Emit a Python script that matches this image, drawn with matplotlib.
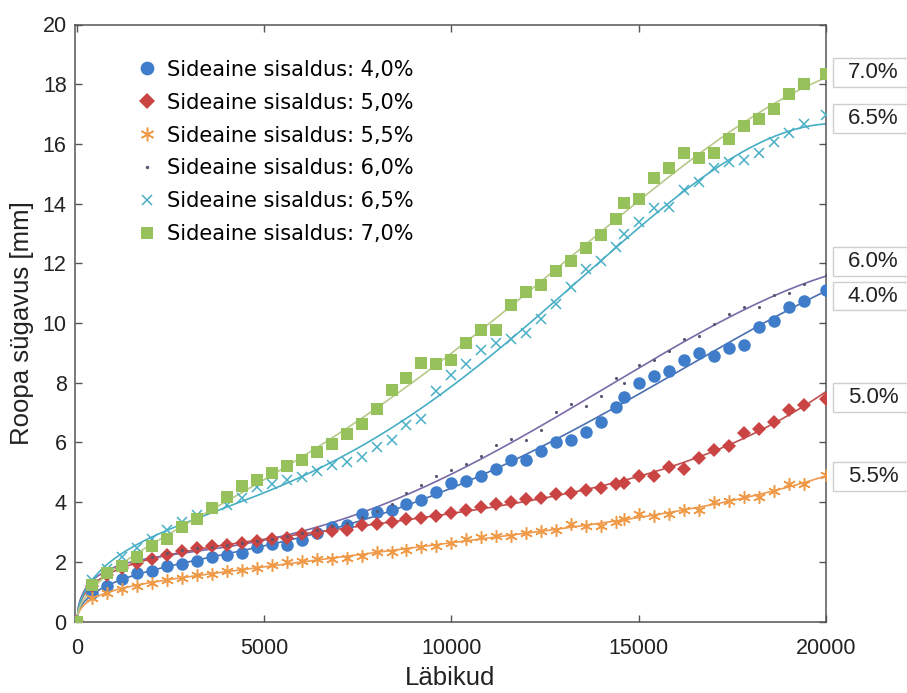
import numpy as np
import matplotlib
matplotlib.use("Agg")
import matplotlib.pyplot as plt
from matplotlib.patches import Rectangle
from matplotlib.transforms import blended_transform_factory

# ---------------- data ----------------
passes = ([i * 400 for i in range(37)] + [14600] +
          [15000 + i * 400 for i in range(12)] + [20000])

y_40 = [0, 0.94, 1.2, 1.41, 1.61, 1.7, 1.87, 1.92, 2.02, 2.17, 2.22, 2.31, 2.48,
        2.6, 2.57, 2.74, 2.95, 3.17, 3.23, 3.6, 3.66, 3.75, 3.92, 4.08, 4.33, 4.64,
        4.7, 4.87, 5.1, 5.4, 5.4, 5.71, 6.01, 6.07, 6.35, 6.68, 7.18, 7.52, 7.99,
        8.21, 8.38, 8.75, 8.99, 8.88, 9.16, 9.27, 9.88, 10.08, 10.53, 10.73, 11.12]
y_50 = [0, 1.2, 1.55, 1.8, 1.95, 2.11, 2.22, 2.36, 2.47, 2.52, 2.56, 2.64, 2.7,
        2.75, 2.8, 2.92, 2.98, 3.03, 3.08, 3.23, 3.28, 3.34, 3.42, 3.47, 3.54, 3.65,
        3.73, 3.82, 3.92, 3.99, 4.09, 4.15, 4.26, 4.29, 4.42, 4.47, 4.6, 4.65, 4.88,
        4.87, 5.16, 5.12, 5.49, 5.76, 5.87, 6.32, 6.46, 6.7, 7.07, 7.26, 7.46]
y_55 = [0, 0.78, 0.95, 1.1, 1.2, 1.3, 1.38, 1.47, 1.55, 1.6, 1.68, 1.72, 1.8,
        1.9, 2.0, 2.03, 2.08, 2.1, 2.12, 2.2, 2.32, 2.33, 2.41, 2.5, 2.52, 2.64,
        2.75, 2.82, 2.86, 2.86, 2.97, 3.03, 3.08, 3.26, 3.19, 3.2, 3.34, 3.45, 3.6,
        3.54, 3.6, 3.73, 3.75, 3.99, 4.04, 4.17, 4.17, 4.37, 4.59, 4.59, 4.9]
y_60 = [0, 1.35, 1.6, 1.85, 2.0, 2.15, 2.28, 2.38, 2.45, 2.5, 2.55, 2.62, 2.7,
        2.78, 2.85, 2.95, 3.08, 3.2, 3.3, 3.5, 3.7, 3.95, 4.29, 4.57, 4.87, 5.09,
        5.29, 5.55, 5.9, 6.1, 6.07, 6.4, 7.02, 7.27, 7.21, 7.57, 8.15, 7.99, 8.58,
        8.75, 9.05, 9.45, 9.58, 9.97, 10.31, 10.53, 10.55, 10.95, 11.0, 11.31, 11.62]
y_65 = [0, 1.4, 1.75, 2.17, 2.45, 2.78, 3.08, 3.34, 3.58, 3.79, 3.9, 4.15, 4.51,
        4.6, 4.73, 4.84, 5.04, 5.23, 5.34, 5.51, 5.85, 6.09, 6.57, 6.77, 7.71, 8.25,
        8.63, 9.1, 9.33, 9.47, 9.66, 10.14, 10.64, 11.2, 11.81, 12.07, 12.54, 12.98,
        13.37, 13.84, 13.87, 14.45, 14.73, 15.19, 15.4, 15.46, 15.71, 16.07, 16.38,
        16.68, 16.97]
y_70 = [0, 1.22, 1.61, 1.87, 2.17, 2.52, 2.78, 3.15, 3.43, 3.81, 4.17, 4.53, 4.73,
        4.98, 5.2, 5.4, 5.68, 5.96, 6.29, 6.6, 7.11, 7.77, 8.17, 8.67, 8.64, 8.77,
        9.33, 9.75, 9.78, 10.61, 11.03, 11.28, 11.73, 12.09, 12.51, 12.96, 13.49,
        14.02, 14.17, 14.86, 15.18, 15.68, 15.52, 15.69, 16.16, 16.61, 16.85, 17.18,
        17.66, 18.02, 18.33]

legend_labels = ["Sideaine sisaldus: 4,0%", "Sideaine sisaldus: 5,0%",
                 "Sideaine sisaldus: 5,5%", "Sideaine sisaldus: 6,0%",
                 "Sideaine sisaldus: 6,5%", "Sideaine sisaldus: 7,0%"]
end_labels = ["4.0%", "5.0%", "5.5%", "6.0%", "6.5%", "7.0%"]
end_label_y = [10.9, 7.5, 4.85, 12.05, 16.85, 18.4]

x_ticks = [0, 5000, 10000, 15000, 20000]
y_ticks = list(range(0, 21, 2))

series = [y_40, y_50, y_55, y_60, y_65, y_70]

# ---------------- styles ----------------
mcol = ["#3F7DCA", "#C94443", "#F09A48", "#5A5570", "#48AFC6", "#97C15B"]
lcol = ["#4A6FB0", "#C05050", "#EE9A50", "#7A6AA8", "#47AEC4", "#B6C98B"]
markers = ["o", "D", (6, 2, 0), ".", "x", "s"]
msizes = [9, 7, 9, 4.5, 7, 8]
mews = [0, 0, 1.1, 0, 1.1, 0]

fig = plt.figure(figsize=(9.07, 6.93), dpi=100)
ax = fig.add_axes([75 / 907, 1 - 621.5 / 693, 751 / 907, 597 / 693])

x = np.array(passes, dtype=float)
xs = np.linspace(0, 20000, 500)

def basis(v):
    t = v / 20000.0
    return np.column_stack([np.ones_like(t), np.sqrt(t), t, t ** 2, t ** 3, t ** 4])

handles = []
for i, ys in enumerate(series):
    ys = np.array(ys, dtype=float)
    assert len(ys) == len(x)
    coef, *_ = np.linalg.lstsq(basis(x), ys, rcond=None)
    ax.plot(xs, basis(xs) @ coef, color=lcol[i], lw=1.2, zorder=2)
    mk = markers[i]
    filled = mk not in ("x",) and not isinstance(mk, tuple)
    h, = ax.plot(x, ys, linestyle="none", marker=mk, markersize=msizes[i],
                 color=mcol[i], markeredgewidth=mews[i] if not filled else 0,
                 label=legend_labels[i], zorder=3)
    handles.append(h)

ax.set_xlim(-50, 20000)
ax.set_ylim(0, 20)
ax.set_xticks(x_ticks)
ax.set_yticks(y_ticks)
ax.tick_params(direction="in", length=5, width=1, top=True, right=True,
               labelsize=15.5, colors="#555555", labelcolor="#222222", pad=6)
ax.tick_params(axis="x", pad=12)
for lab in ax.get_xticklabels() + ax.get_yticklabels():
    lab.set_family("Liberation Sans")
for s in ax.spines.values():
    s.set_color("#555555")
    s.set_linewidth(1.1)

ax.set_xlabel("Läbikud", fontsize=18.5, family="Liberation Sans", color="#222222",
              labelpad=5)
ax.set_ylabel("Roopa sügavus [mm]", fontsize=18.5, family="Liberation Sans",
              color="#222222", labelpad=6)

leg = ax.legend(handles=handles, loc="upper left", bbox_to_anchor=(0.068, 0.955),
                frameon=False, prop={"family": "DejaVu Sans", "size": 15},
                labelspacing=0.62, handletextpad=0.35, handlelength=1.2,
                borderaxespad=0, markerscale=1.1)

tr = blended_transform_factory(ax.transAxes, ax.transData)
for lab, yy in zip(end_labels, end_label_y):
    ax.add_patch(Rectangle((1.0093, yy - 0.48), 0.2, 0.96, transform=tr,
                           clip_on=False, facecolor="white",
                           edgecolor="#cfcfcf", lw=1))
    ax.text(1.029, yy, lab, transform=tr, va="center", ha="left",
            fontsize=16, family="Liberation Sans", color="#222222", clip_on=False)

fig.savefig("out.png", dpi=100)
